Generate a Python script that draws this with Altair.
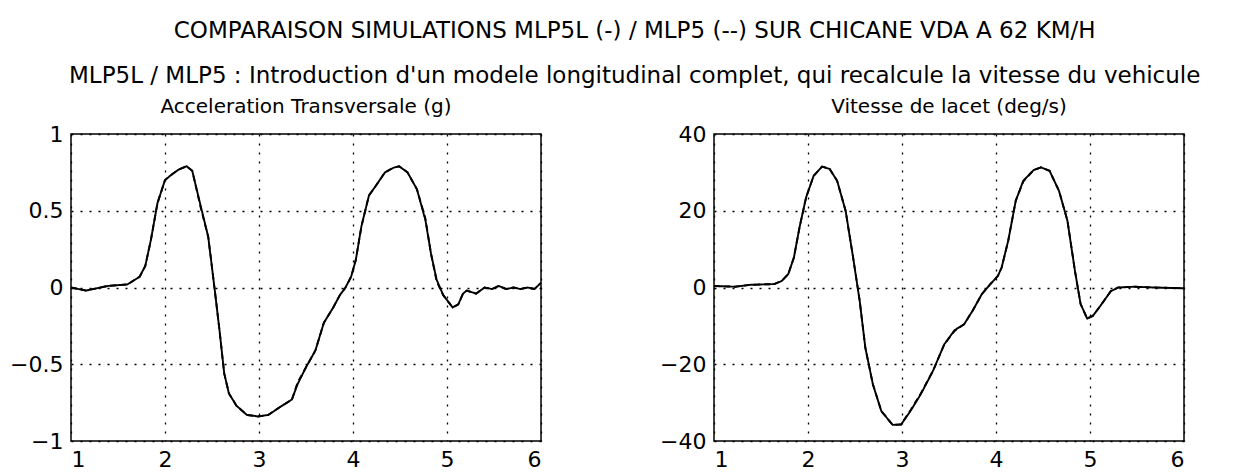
import altair as alt
import pandas as pd

FONT = "DejaVu Sans"

MAIN_TITLE = "COMPARAISON SIMULATIONS MLP5L (-) / MLP5 (--) SUR CHICANE VDA A 62 KM/H"
SUB_TITLE = "MLP5L / MLP5 : Introduction d'un modele longitudinal complet, qui recalcule la vitesse du vehicule"
ACC_TITLE = "Acceleration Transversale (g)"
YAW_TITLE = "Vitesse de lacet (deg/s)"
SERIES = ["MLP5L", "MLP5"]

# Acceleration transversale (g)
acc_t = [1.00, 1.16, 1.39, 1.60, 1.73, 1.79, 1.85, 1.92, 2.00, 2.08, 2.15, 2.23, 2.29, 2.38,
         2.46, 2.49, 2.53, 2.58, 2.63, 2.68, 2.76, 2.87, 2.99, 3.10, 3.22, 3.35, 3.41, 3.50,
         3.60, 3.69, 3.79, 3.86, 3.92, 3.98, 4.03, 4.09, 4.17, 4.24, 4.34, 4.43, 4.49, 4.58,
         4.68, 4.77, 4.83, 4.89, 4.96, 5.06, 5.12, 5.17, 5.21, 5.31, 5.40, 5.48, 5.55, 5.63,
         5.71, 5.78, 5.86, 5.93, 6.00]
acc_mlp5l = [0.00, -0.02, 0.01, 0.02, 0.07, 0.14, 0.31, 0.55, 0.70, 0.74, 0.77, 0.79, 0.76, 0.53,
             0.33, 0.18, -0.02, -0.28, -0.56, -0.69, -0.77, -0.83, -0.84, -0.83, -0.78, -0.73, -0.63, -0.52,
             -0.41, -0.23, -0.13, -0.05, 0.00, 0.07, 0.18, 0.40, 0.60, 0.66, 0.75, 0.78, 0.79, 0.75,
             0.64, 0.44, 0.22, 0.05, -0.05, -0.13, -0.11, -0.04, -0.02, -0.04, 0.00, -0.01, 0.01, -0.01,
             0.00, -0.01, 0.00, -0.01, 0.03]
acc_mlp5 = [0.00, -0.02, 0.01, 0.02, 0.07, 0.14, 0.31, 0.55, 0.70, 0.74, 0.77, 0.79, 0.76, 0.52,
            0.33, 0.18, -0.02, -0.28, -0.56, -0.69, -0.77, -0.83, -0.84, -0.83, -0.78, -0.73, -0.62, -0.52,
            -0.41, -0.23, -0.13, -0.05, 0.00, 0.07, 0.18, 0.40, 0.60, 0.66, 0.75, 0.78, 0.79, 0.75,
            0.64, 0.45, 0.22, 0.04, -0.05, -0.13, -0.11, -0.04, -0.02, -0.04, 0.00, -0.01, 0.01, -0.01,
            0.00, -0.01, 0.00, -0.01, 0.03]

# Vitesse de lacet (deg/s)
yaw_t = [1.00, 1.22, 1.39, 1.64, 1.72, 1.79, 1.85, 1.91, 1.98, 2.06, 2.15, 2.23, 2.31, 2.40,
         2.48, 2.55, 2.61, 2.69, 2.78, 2.90, 2.99, 3.09, 3.20, 3.33, 3.45, 3.56, 3.66, 3.75,
         3.85, 3.94, 4.02, 4.06, 4.13, 4.21, 4.29, 4.40, 4.48, 4.57, 4.67, 4.76, 4.84, 4.90,
         4.97, 5.03, 5.11, 5.22, 5.30, 5.47, 5.68, 6.00]
yaw_mlp5l = [0.4, 0.2, 0.7, 0.9, 1.7, 3.5, 7.8, 15.7, 23.5, 29.1, 31.5, 30.9, 27.8, 20.0,
             7.8, -3.5, -15.7, -25.2, -32.2, -35.8, -35.7, -32.2, -27.8, -21.7, -14.8, -11.1, -9.6, -6.1,
             -1.7, 0.9, 3.0, 5.2, 12.2, 22.6, 27.8, 30.6, 31.3, 30.4, 25.2, 17.4, 4.3, -4.3,
             -8.1, -7.4, -4.8, -1.0, 0.0, 0.2, 0.0, -0.2]
yaw_mlp5 = [0.4, 0.2, 0.7, 0.9, 1.7, 3.5, 7.8, 15.7, 23.5, 29.1, 31.5, 30.9, 27.8, 20.0,
            7.8, -3.5, -15.7, -25.2, -32.2, -35.8, -35.7, -32.0, -27.6, -21.7, -14.8, -11.3, -9.6, -6.1,
            -1.7, 0.9, 3.0, 5.2, 12.2, 22.6, 27.6, 30.6, 31.3, 30.4, 25.2, 17.4, 4.3, -4.3,
            -8.1, -7.4, -4.8, -1.0, 0.0, 0.2, 0.0, -0.2]

x_ticks = [1, 2, 3, 4, 5, 6]
acc_ticks = [-1, -0.5, 0, 0.5, 1]
yaw_ticks = [-40, -20, 0, 20, 40]


def panel(t, s1, s2, title, ydom, yticks, yfmt):
    df = pd.DataFrame({
        "t": list(t) + list(t),
        "v": list(s1) + list(s2),
        "serie": [SERIES[0]] * len(t) + [SERIES[1]] * len(t),
    })
    return alt.Chart(df, title=alt.TitleParams(
        title, fontSize=20, fontWeight="normal", font=FONT, color="black", offset=6
    )).mark_line(color="black", strokeWidth=1.9).encode(
        x=alt.X("t:Q", scale=alt.Scale(domain=[1, 6], nice=False, zero=False),
                axis=alt.Axis(values=x_ticks, format="d", title=None, labelPadding=8)),
        y=alt.Y("v:Q", scale=alt.Scale(domain=ydom, nice=False, zero=False),
                axis=alt.Axis(values=yticks, format=yfmt, title=None, labelPadding=8)),
        strokeDash=alt.StrokeDash("serie:N", scale=alt.Scale(domain=SERIES, range=[[1, 0], [6, 4]]),
                                  legend=None),
        order=alt.Order("serie:N", sort="ascending"),
    ).properties(width=470, height=307)


left = panel(acc_t, acc_mlp5l, acc_mlp5, ACC_TITLE, [-1, 1], acc_ticks, "~g")
right = panel(yaw_t, yaw_mlp5l, yaw_mlp5, YAW_TITLE, [-40, 40], yaw_ticks, "d")

chart = alt.hconcat(left, right, spacing=112).properties(
    title=alt.TitleParams(
        MAIN_TITLE, subtitle=SUB_TITLE, fontSize=23, subtitleFontSize=23, font=FONT,
        subtitleFont=FONT, fontWeight="normal", color="black", subtitleColor="black",
        anchor="middle", subtitlePadding=22, offset=8, dx=36,
    ),
    padding={"left": 0, "top": 12, "right": 0, "bottom": 0},
    background="white",
).configure_view(
    stroke="black", strokeWidth=1.5
).configure_axis(
    labelFont=FONT, labelFontSize=22, labelColor="black", domain=False, ticks=False,
    grid=True, gridColor="black", gridDash=[2, 7], gridWidth=1.3, gridOpacity=1,
)

chart.save("out.html", embed_options={"renderer": "svg", "actions": False})
